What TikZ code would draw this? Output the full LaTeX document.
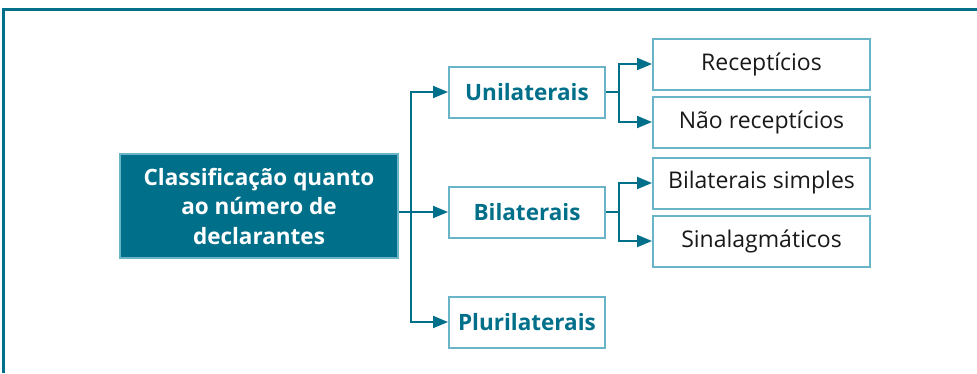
\documentclass[tikz,border=0pt]{standalone}
\usepackage{fontspec}
\setmainfont{Open Sans}
\usetikzlibrary{arrows.meta}
\definecolor{teal1}{HTML}{00708A}
\definecolor{teal2}{HTML}{6AB4C8}
\begin{document}
\begin{tikzpicture}[x=1pt,y=-1pt,
  mainbox/.style={draw=teal2,line width=2pt,fill=teal1,text=white,font=\bfseries\fontsize{22.5}{29.5}\selectfont,align=center,minimum width=278pt,minimum height=104pt,inner sep=0pt},
  midbox/.style={draw=teal2,line width=2pt,fill=white,text=teal1,font=\bfseries\fontsize{22.5}{27}\selectfont,minimum width=156pt,minimum height=51pt,inner sep=0pt},
  leafbox/.style={draw=teal2,line width=2pt,fill=white,text=black!90,font=\fontsize{23}{27}\selectfont,minimum width=217pt,minimum height=51pt,inner sep=0pt},
  link/.style={draw=teal1,line width=2pt,-{Triangle[length=15pt,width=12pt]}}]
\useasboundingbox (0,0) rectangle (977,373);
% frame: top and left rules
\draw[teal1,line width=3pt] (3,373) -- (3,9) -- (977,9);
% nodes
\node[mainbox] (root) at (259,206) {Classificação quanto\\ao número de\\declarantes};
\node[midbox] (uni) at (527,92) {Unilaterais};
\node[midbox] (bi) at (527,212) {Bilaterais};
\node[midbox] (pluri) at (527,322) {Plurilaterais};
\node[leafbox] (rec) at (761.5,64) {Receptícios};
\node[leafbox] (nrec) at (761.5,122) {Não receptícios};
\node[leafbox] (bis) at (761.5,183) {Bilaterais simples};
\node[leafbox] (sin) at (761.5,241) {Sinalagmáticos};
% junction points
\coordinate (j1) at (411,212);
\coordinate (j2) at (619,92);
\coordinate (j3) at (619,212);
% connectors
\draw[link] (root.east |- bi) -- (bi.west);
\draw[link] (j1) |- (uni.west);
\draw[link] (j1) |- (pluri.west);
\draw[draw=teal1,line width=2pt] (uni.east) -- (j2);
\draw[link] (j2) |- (rec.west);
\draw[link] (j2) |- (nrec.west);
\draw[draw=teal1,line width=2pt] (bi.east) -- (j3);
\draw[link] (j3) |- (bis.west);
\draw[link] (j3) |- (sin.west);
\end{tikzpicture}
\end{document}
